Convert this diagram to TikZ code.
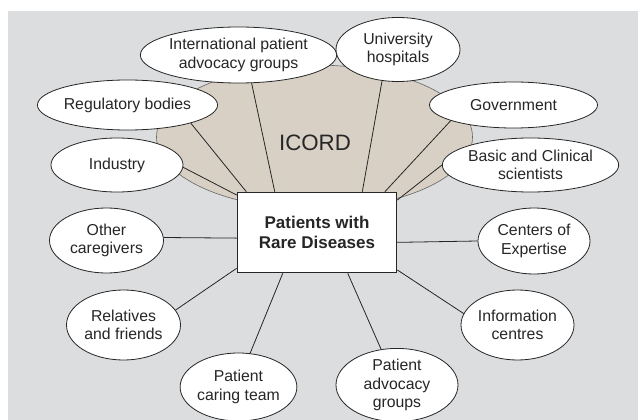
\documentclass[tikz,border=0pt]{standalone}
\usepackage{fontspec}
\setmainfont{Liberation Sans}
\usetikzlibrary{shapes.geometric}
\definecolor{bggrey}{RGB}{220,221,223}
\definecolor{icordtan}{RGB}{216,208,196}
\definecolor{inkgrey}{RGB}{38,38,38}

\begin{document}
\begin{tikzpicture}[x=1pt,y=-1pt,
        party/.style={ellipse,draw=inkgrey,fill=white,line width=0.8pt,inner sep=0pt,
            align=center,text=inkgrey,font=\fontsize{15.8}{18.5}\selectfont},
        link/.style={draw=inkgrey,line width=0.8pt}]

\useasboundingbox (0,0) rectangle (638,420);
\fill[bggrey] (8,11) rectangle (638,420);

% ICORD cloud
\draw[fill=icordtan, draw=gray!80!black, line width=0.6pt] (314.5,137) ellipse [x radius=158pt, y radius=72pt];
\node[text=inkgrey, font=\fontsize{22.3}{26}\selectfont] (icord) at (315,143) {ICORD};

% stakeholders
\node[party, minimum width=164pt, minimum height=56pt] (intl) at (238.5,55) {International patient\\advocacy groups};
\node[party, minimum width=124pt, minimum height=64pt] (univ) at (398,49.5) {University\\hospitals};
\node[party, minimum width=168pt, minimum height=46pt] (gov) at (513.5,105) {Government};
\node[party, minimum width=168pt, minimum height=54pt] (basic) at (530.5,165) {Basic and Clinical\\scientists};
\node[party, minimum width=152pt, minimum height=50pt] (reg) at (127.5,105) {Regulatory bodies};
\node[party, minimum width=132pt, minimum height=54pt] (ind) at (117,165) {Industry};
\node[party, minimum width=114pt, minimum height=65pt] (other) at (106.5,240.5) {Other\\caregivers};
\node[party, minimum width=114pt, minimum height=70pt] (rel) at (123.5,325) {Relatives\\and friends};
\node[party, minimum width=114pt, minimum height=68pt] (caring) at (238.5,387) {Patient\\caring team};
\node[party, minimum width=122pt, minimum height=72pt] (padv) at (397,385) {Patient\\advocacy\\groups};
\node[party, minimum width=113pt, minimum height=70pt] (info) at (517.5,325) {Information\\centres};
\node[party, minimum width=112pt, minimum height=66pt] (centers) at (534,241) {Centers of\\Expertise};

% patients
\node[draw=inkgrey, fill=white, line width=1.6pt, minimum width=159pt, minimum height=80pt,
    align=center, text=inkgrey, font=\bfseries\fontsize{17}{20}\selectfont] (pat) at (317,232.5) {Patients with\\Rare Diseases};

\draw[link] (pat.155.9) -- (ind.358);
\draw[link] (pat.150.7) -- (reg.344);
\draw[link] (pat.136.4) -- (intl.295.7);
\draw[link] (pat.42.9) -- (univ.243.1);
\draw[link] (pat.31.1) -- (gov.194.3);
\draw[link] (pat.22.8) -- (basic.180);
\draw[link] (pat.184) -- (other.3);
\draw[link] (pat.204) -- (rel.16.9);
\draw[link] (pat.230.5) -- (caring.71.3);
\draw[link] (pat.307.7) -- (padv.114.6);
\draw[link] (pat.335.3) -- (info.168.8);
\draw[link] (pat.353.2) -- (centers.180);
\end{tikzpicture}
\end{document}
